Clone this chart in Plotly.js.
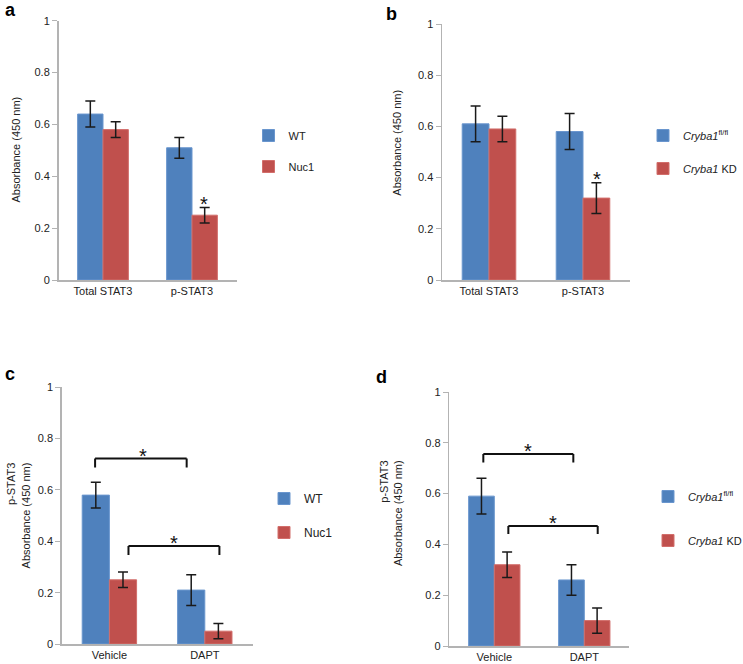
<!DOCTYPE html>
<html>
<head>
<meta charset="utf-8">
<script src="https://cdn.plot.ly/plotly-3.0.1.min.js"></script>
<style>html,body{margin:0;padding:0;background:#fff;overflow:hidden;}#wrap{width:743px;height:664px;overflow:hidden;position:relative;}</style>
</head>
<body>
<div id="wrap"><div id="chart"></div></div>
<script>
// ---- data ----
const catsAB = ['Total STAT3', 'p-STAT3'];
const catsCD = ['Vehicle', 'DAPT'];

const aWT = [0.64, 0.51];
const aWTerr = [0.05, 0.04];
const aNuc1 = [0.58, 0.25];
const aNuc1err = [0.03, 0.03];

const bFl = [0.61, 0.58];
const bFlerr = [0.07, 0.07];
const bKD = [0.59, 0.32];
const bKDerr = [0.05, 0.06];

const cWT = [0.58, 0.21];
const cWTerr = [0.05, 0.06];
const cNuc1 = [0.25, 0.05];
const cNuc1err = [0.03, 0.03];

const dFl = [0.59, 0.26];
const dFlerr = [0.07, 0.06];
const dKD = [0.32, 0.10];
const dKDerr = [0.05, 0.05];

const yTicks = [0, 0.2, 0.4, 0.6, 0.8, 1];
const yTickText = ['0', '0.2', '0.4', '0.6', '0.8', '1'];

// ---- styles ----
const BLUE = '#4F81BD', BLUE_EDGE = '#6A96CE';
const RED = '#C0504D', RED_EDGE = '#D26E6B';
const FONT = 'Liberation Sans, Arial, sans-serif';

function bar(x, y, err, name, color, edge, xa, ya, leg) {
  return {
    type: 'bar', x: x, y: y, name: name, xaxis: xa, yaxis: ya,
    legend: leg, legendgroup: leg + name,
    marker: {color: color, line: {color: edge, width: 1}},
    error_y: {type: 'data', array: err, visible: true, color: '#1a1a1a', thickness: 1.5, width: 5}
  };
}

const data = [
  bar(catsAB, aWT, aWTerr, 'WT', BLUE, BLUE_EDGE, 'x', 'y', 'legend'),
  bar(catsAB, aNuc1, aNuc1err, 'Nuc1', RED, RED_EDGE, 'x', 'y', 'legend'),
  bar(catsAB, bFl, bFlerr, '<i>Cryba1</i><sup>fl/fl</sup>', BLUE, BLUE_EDGE, 'x2', 'y2', 'legend2'),
  bar(catsAB, bKD, bKDerr, '<i>Cryba1</i> KD', RED, RED_EDGE, 'x2', 'y2', 'legend2'),
  bar(catsCD, cWT, cWTerr, 'WT', BLUE, BLUE_EDGE, 'x3', 'y3', 'legend3'),
  bar(catsCD, cNuc1, cNuc1err, 'Nuc1', RED, RED_EDGE, 'x3', 'y3', 'legend3'),
  bar(catsCD, dFl, dFlerr, '<i>Cryba1</i><sup>fl/fl</sup>', BLUE, BLUE_EDGE, 'x4', 'y4', 'legend4'),
  bar(catsCD, dKD, dKDerr, '<i>Cryba1</i> KD', RED, RED_EDGE, 'x4', 'y4', 'legend4')
];

// canvas slightly wider than the 743px view so right-hand legends are not pushed left
const W = 800, H = 664;
const px = v => v / W;
const py = v => 1 - v / H;

function xax(d0, d1, anchor) {
  return {
    domain: [px(d0), px(d1)], anchor: anchor, type: 'category', range: [-0.5, 1.5],
    showline: true, linecolor: '#b3b3b3', linewidth: 1.5, ticks: '', showgrid: false,
    zeroline: false, tickfont: {size: 11, color: '#222', family: FONT}, fixedrange: true
  };
}
function yax(top, bottom, anchor) {
  return {
    domain: [py(bottom), py(top)], anchor: anchor, range: [0, 1],
    tickvals: yTicks, ticktext: yTickText,
    showline: true, linecolor: '#b3b3b3', linewidth: 1.5, ticks: 'outside', ticklen: 5,
    tickcolor: '#b3b3b3', tickwidth: 1, showgrid: false, zeroline: false,
    tickfont: {size: 11, color: '#222', family: FONT}, fixedrange: true
  };
}
function bracket(xa, ya, x0, x1, yt, yl) {
  const s = {type: 'line', xref: xa, yref: ya, line: {color: '#111', width: 2}};
  return [
    Object.assign({}, s, {x0: x0, x1: x0, y0: yl, y1: yt}),
    Object.assign({}, s, {x0: x0, x1: x1, y0: yt, y1: yt}),
    Object.assign({}, s, {x0: x1, x1: x1, y0: yt, y1: yl})
  ];
}
function star(xa, ya, x, y) {
  return {xref: xa, yref: ya, x: x, y: y, text: '*', showarrow: false,
    xanchor: 'center', yanchor: 'middle', font: {size: 20, color: '#111', family: FONT}};
}
function letter(t, x, y) {
  return {xref: 'paper', yref: 'paper', x: px(x), y: py(y), text: '<b>' + t + '</b>', showarrow: false,
    xanchor: 'center', yanchor: 'middle', font: {size: 18, color: '#000', family: FONT}};
}
function ytitle(t, x, y) {
  return {xref: 'paper', yref: 'paper', x: px(x), y: py(y), text: t, showarrow: false, textangle: -90,
    align: 'right', xanchor: 'center', yanchor: 'middle', font: {size: 11, color: '#222', family: FONT}};
}
function leg(x, y, size, gap) {
  return {x: px(x), y: py(y), xanchor: 'left', yanchor: 'top', bgcolor: 'rgba(0,0,0,0)',
    font: {size: size, color: '#222', family: FONT}, traceorder: 'grouped', tracegroupgap: gap,
    itemwidth: 30, borderwidth: 0};
}

const layout = {
  width: W, height: H, margin: {l: 0, r: 0, t: 0, b: 0},
  paper_bgcolor: '#fff', plot_bgcolor: '#fff',
  barmode: 'group', bargap: 0.43, bargroupgap: 0,
  font: {family: FONT, size: 11, color: '#222'},
  showlegend: true,
  xaxis: xax(58.5, 236.5, 'y'),
  yaxis: yax(20.7, 280, 'x'),
  xaxis2: xax(442, 630, 'y2'),
  yaxis2: yax(24, 280, 'x2'),
  xaxis3: xax(61.7, 252.5, 'y3'),
  yaxis3: yax(387.3, 644, 'x3'),
  xaxis4: xax(449.3, 629.3, 'y4'),
  yaxis4: yax(392, 646, 'x4'),
  legend: leg(248.5, 121, 11, 12),
  legend2: leg(643, 121, 11, 14),
  legend3: leg(264, 484, 12, 15),
  legend4: leg(648, 482, 11, 25),
  shapes: [].concat(
    bracket('x3', 'y3', -0.15, 0.81, 0.723, 0.688),
    bracket('x3', 'y3', 0.2, 1.153, 0.382, 0.347),
    bracket('x4', 'y4', -0.122, 0.878, 0.756, 0.722),
    bracket('x4', 'y4', 0.156, 1.149, 0.472, 0.441)
  ),
  annotations: [
    star('x', 'y', 1.14, 0.293),
    star('x2', 'y2', 1.153, 0.394),
    star('x3', 'y3', 0.356, 0.733),
    star('x3', 'y3', 0.678, 0.393),
    star('x4', 'y4', 0.378, 0.766),
    star('x4', 'y4', 0.656, 0.483),
    letter('a', 10, 10.5),
    letter('b', 391, 13.7),
    letter('c', 9.5, 373.7),
    letter('d', 381, 377),
    ytitle('Absorbance (450 nm)', 15, 149.5),
    ytitle('Absorbance (450 nm)', 396.7, 143),
    ytitle('p-STAT3<br>Absorbance (450 nm)', 18.4, 515),
    ytitle('p-STAT3<br>Absorbance (450 nm)', 390.8, 513.3)
  ]
};

Plotly.newPlot('chart', data, layout, {displayModeBar: false, staticPlot: true});
</script>
</body>
</html>
